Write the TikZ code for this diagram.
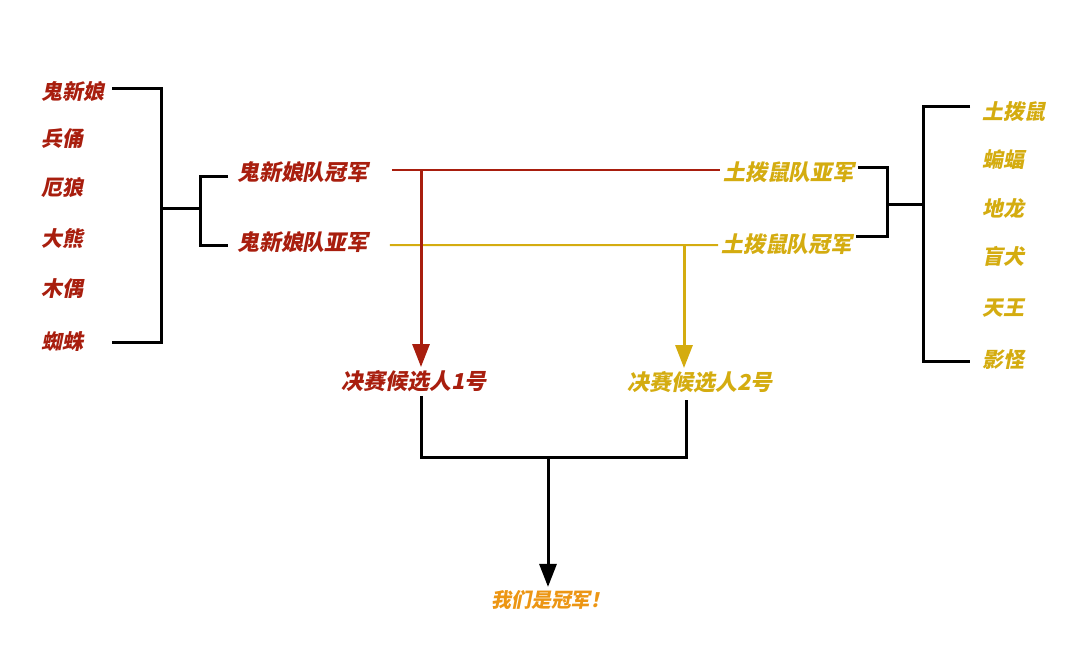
\documentclass[tikz,border=0pt]{standalone}
\usepackage{fontspec}
\newfontfamily\cjk{Noto Sans CJK SC Black}[FakeSlant=0.2]
\usepackage{tikz}
\usetikzlibrary{arrows.meta}
\definecolor{teamred}{RGB}{168,30,14}
\definecolor{teamyellow}{RGB}{212,172,16}
\definecolor{champ}{RGB}{236,150,20}

\begin{document}
\begin{tikzpicture}[x=1bp,y=1bp,
  red/.style={text=teamred,font=\cjk\fontsize{21}{21}\selectfont,inner sep=3bp},
  yellow/.style={text=teamyellow,font=\cjk\fontsize{21}{21}\selectfont,inner sep=3bp},
  bracket/.style={line width=3bp,black},
  redline/.style={line width=2bp,teamred},
  yellowline/.style={line width=2bp,teamyellow},
  tip/.style={-{Triangle[width=17bp,length=23bp]},line width=3bp}]

\useasboundingbox (0,0) rectangle (1080,-656);

% left team
\node (G1) at (38,-92)[red,anchor=west] {鬼新娘};
\node (G2) at (38,-139)[red,anchor=west] {兵俑};
\node (G3) at (38,-188)[red,anchor=west] {厄狼};
\node (G4) at (38,-238)[red,anchor=west] {大熊};
\node (G5) at (38,-289)[red,anchor=west] {木偶};
\node (G6) at (38,-342)[red,anchor=west] {蜘蛛};

% right team
\node (T1) at (979,-112)[yellow,anchor=west] {土拨鼠};
\node (T2) at (979,-160)[yellow,anchor=west] {蝙蝠};
\node (T3) at (979,-208)[yellow,anchor=west] {地龙};
\node (T4) at (979,-256)[yellow,anchor=west] {盲犬};
\node (T5) at (979,-308)[yellow,anchor=west] {天王};
\node (T6) at (979,-360)[yellow,anchor=west] {影怪};

% group results
\node (GW) at (234,-172)[red,anchor=west,font=\cjk\fontsize{22}{22}\selectfont] {鬼新娘队冠军};
\node (GR) at (234,-242)[red,anchor=west,font=\cjk\fontsize{22}{22}\selectfont] {鬼新娘队亚军};
\node (TR) at (720,-172)[yellow,anchor=west,font=\cjk\fontsize{22}{22}\selectfont] {土拨鼠队亚军};
\node (TW) at (718,-244)[yellow,anchor=west,font=\cjk\fontsize{22}{22}\selectfont] {土拨鼠队冠军};

% finalists
\node (F1) at (414,-381)[red,font=\cjk\fontsize{22}{22}\selectfont] {决赛候选人1号};
\node (F2) at (700,-382)[yellow,font=\cjk\fontsize{22}{22}\selectfont] {决赛候选人2号};
\node (WIN) at (551,-600)[text=champ,font=\cjk\fontsize{20}{20}\selectfont] {我们是冠军！};

% brackets
\coordinate (GT) at (112,-89);
\coordinate (GB) at (112,-342);
\coordinate (GJ) at (161,-208);
\coordinate (GS) at (200,-208);
\coordinate (TT) at (970,-107);
\coordinate (TB) at (970,-361);
\coordinate (TJ) at (923,-204);
\coordinate (TS) at (887,-204);
\draw [bracket] (GT) -| (GJ) |- (GB);
\draw [bracket] (GJ) -- (GS);
\draw [bracket] ([xshift=-6bp,yshift=-5bp]GW.west) -| (GS) |- ([xshift=-6bp,yshift=-3bp]GR.west);
\draw [bracket] (TT) -| (TJ) |- (TB);
\draw [bracket] (TJ) -- (TS);
\draw [bracket] ([yshift=4bp]TR.east) -| (TS) |- ([yshift=8bp]TW.east);

% crossing lines
\coordinate (RA) at (421,-170);
\coordinate (YA) at (684,-245);
\draw [redline] ([xshift=20bp,yshift=2bp]GW.east) -- ([yshift=2bp]TR.west);
\draw [yellowline] ([xshift=18bp,yshift=-3bp]GR.east) -- ([yshift=-1bp]TW.west);
\draw [tip,teamred] (RA) -- (RA |- F1.north);
\draw [tip,teamyellow] (YA) -- (YA |- F2.north);

% final
\coordinate (FJ) at (548,-457);
\draw [bracket] ([yshift=-1bp]F1.south -| RA) |- (FJ) -| ([yshift=-4bp]F2.south -| 686,0);
\draw [tip,black] (FJ) -- (FJ |- WIN.north);
\end{tikzpicture}
\end{document}
